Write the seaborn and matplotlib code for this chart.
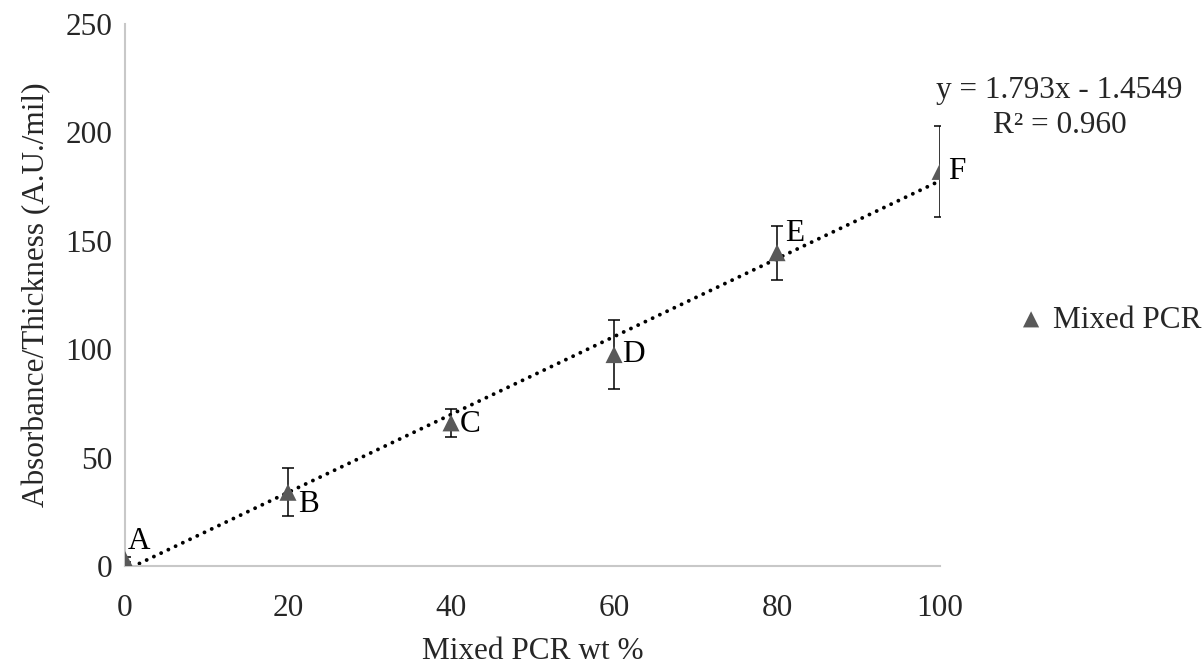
import numpy as np
import pandas as pd
import matplotlib
matplotlib.use("Agg")
import matplotlib.pyplot as plt
import seaborn as sns

# values
pcr_wt = [0, 20, 40, 60, 80, 100]
abs_thick = [3, 34, 66, 97.5, 144.5, 182]
err = [1, 11, 6.5, 16, 12.5, 21]
point_labels = ["A", "B", "C", "D", "E", "F"]
label_offsets = [(2, 13), (7, -9), (6, -1.5), (6, 0), (6, 14), (6, 0)]
fit_text = "y = 1.793x - 1.4549\nR² = 0.960"

sns.set_theme(style="white")
plt.rcParams["font.family"] = ["Liberation Serif", "DejaVu Serif"]
fs = 22.5

df = pd.DataFrame({"x": pcr_wt, "y": abs_thick, "err": err})

fig = plt.figure(figsize=(12.04, 6.64), dpi=100)
ax = fig.add_axes([0.1038, 0.1476, 0.677, 0.8163])

ax.errorbar(df["x"], df["y"], yerr=df["err"], fmt="none", ecolor="black",
            elinewidth=1.1, capsize=4.5, capthick=1.1, zorder=2)
sns.regplot(data=df, x="x", y="y", ax=ax, ci=None, scatter=False,
            line_kws={"color": "black", "lw": 2.8, "ls": (0, (0.01, 2.05)),
                      "dash_capstyle": "round"})
sns.scatterplot(data=df, x="x", y="y", ax=ax, marker="^", s=150, color="#595959",
                edgecolor="none", zorder=3, label="Mixed PCR")

for xi, yi, lab, off in zip(pcr_wt, abs_thick, point_labels, label_offsets):
    ax.annotate(lab, (xi, yi), xytext=off, textcoords="offset points",
                fontsize=fs, ha="left", va="center", color="black")

fig.text(0.88, 0.837, fit_text, ha="center", va="center",
         fontsize=fs, linespacing=1.25)

ax.set_xlim(0, 100)
ax.set_ylim(0, 250)
ax.set_xticks([0, 20, 40, 60, 80, 100])
ax.set_yticks([0, 50, 100, 150, 200, 250])
ax.tick_params(labelsize=fs, length=0)
ax.tick_params(axis="x", pad=20)
ax.tick_params(axis="y", pad=9)
ax.set_xlabel("Mixed PCR wt %", fontsize=fs, labelpad=10)
ax.set_ylabel("Absorbance/Thickness (A.U./mil)", fontsize=fs, labelpad=10)
for s in ["top", "right"]:
    ax.spines[s].set_visible(False)
for s in ["left", "bottom"]:
    ax.spines[s].set_color("#c8c8c8")
    ax.spines[s].set_linewidth(1.5)

ax.get_legend().remove()
h, l = ax.get_legend_handles_labels()
fig.legend(h[-1:], l[-1:], loc="center left", bbox_to_anchor=(0.846, 0.518),
           frameon=False, fontsize=fs, handletextpad=0.3, handlelength=0.8,
           borderpad=0, borderaxespad=0, markerscale=0.95)

fig.savefig("out.png", dpi=100)
